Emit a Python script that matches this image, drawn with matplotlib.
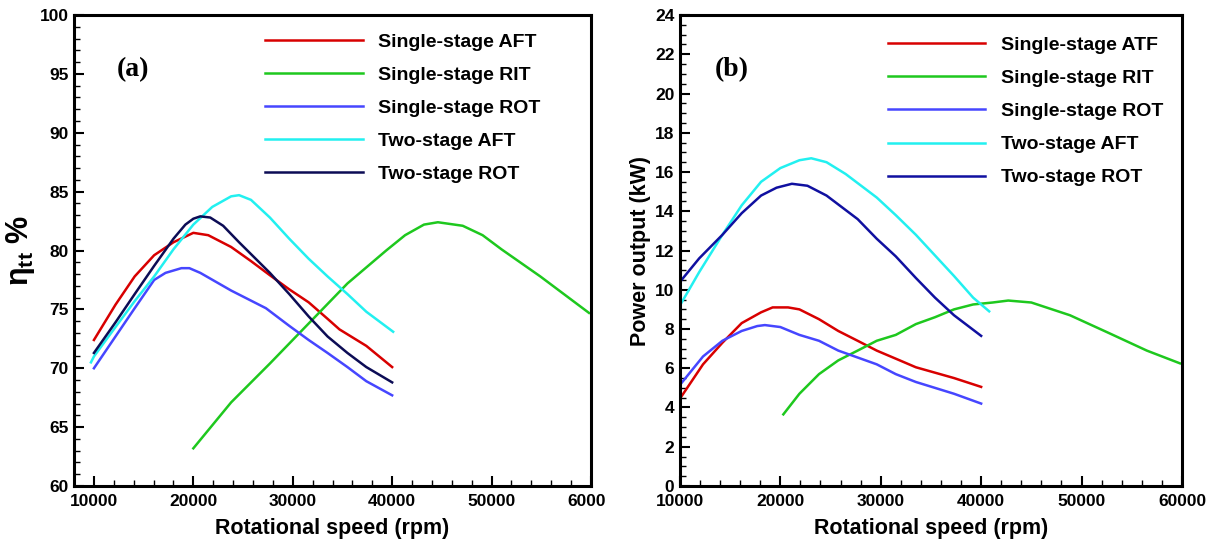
import numpy as np
import matplotlib
matplotlib.use("Agg")
import matplotlib.pyplot as plt
from matplotlib.ticker import MultipleLocator
from matplotlib.transforms import Bbox, TransformedBbox

plt.rcParams['font.family'] = ['Liberation Sans', 'DejaVu Sans']
plt.rcParams['font.weight'] = 'bold'
plt.rcParams['mathtext.default'] = 'regular'

# ---- panel (a): total-to-total efficiency (%) ----
a_ss_aft_x = [10000, 12170, 14100, 16060, 18000, 20000, 21500, 23800, 25800, 27700, 29650, 31600, 33500, 34700, 37400, 40000]
a_ss_aft_y = [72.4, 75.4, 77.8, 79.6, 80.7, 81.5, 81.3, 80.3, 79.1, 77.9, 76.7, 75.6, 74.2, 73.3, 71.9, 70.1]

a_ss_rit_x = [20000, 23800, 27700, 31600, 35500, 39400, 41300, 43200, 44600, 47100, 49100, 51000, 54900, 59800]
a_ss_rit_y = [63.2, 67.1, 70.4, 73.8, 77.2, 80.0, 81.3, 82.2, 82.4, 82.1, 81.3, 80.1, 77.8, 74.7]

a_ss_rot_x = [10000, 12170, 14100, 16060, 17200, 18800, 19600, 20700, 23800, 27300, 29650, 31600, 33500, 35500, 37400, 40000]
a_ss_rot_y = [70.0, 72.7, 75.1, 77.5, 78.1, 78.5, 78.5, 78.1, 76.6, 75.1, 73.6, 72.4, 71.3, 70.1, 68.9, 67.7]

a_ts_aft_x = [9700, 10000, 12170, 14100, 16060, 18000, 20000, 21900, 23800, 24600, 25800, 27700, 29650, 31600, 33500, 35500, 37400, 40100]
a_ts_aft_y = [70.5, 71.0, 73.5, 75.7, 77.8, 80.1, 82.2, 83.7, 84.6, 84.7, 84.3, 82.8, 81.0, 79.3, 77.8, 76.3, 74.8, 73.1]

a_ts_rot_x = [10000, 12170, 14100, 16060, 18000, 19200, 20000, 20700, 21700, 23000, 24600, 27700, 29650, 31600, 33500, 35500, 37400, 40000]
a_ts_rot_y = [71.3, 73.9, 76.3, 78.7, 81.0, 82.2, 82.7, 82.9, 82.8, 82.1, 80.7, 78.1, 76.3, 74.4, 72.7, 71.3, 70.1, 68.8]

# ---- panel (b): power output (kW) ----
b_ss_atf_x = [10000, 12300, 14230, 16150, 18080, 19230, 20770, 21900, 23850, 25770, 27700, 29600, 31900, 33500, 37300, 40000]
b_ss_atf_y = [4.45, 6.2, 7.3, 8.3, 8.85, 9.1, 9.1, 9.0, 8.5, 7.9, 7.4, 6.9, 6.4, 6.05, 5.5, 5.05]

b_ss_rit_x = [20300, 21900, 23850, 25770, 27700, 29600, 31500, 33500, 35400, 37300, 39200, 41150, 42700, 45000, 48850, 52700, 56500, 59800]
b_ss_rit_y = [3.65, 4.7, 5.7, 6.4, 6.9, 7.4, 7.7, 8.25, 8.6, 9.0, 9.25, 9.35, 9.45, 9.35, 8.7, 7.8, 6.9, 6.25]

b_ss_rot_x = [10000, 12300, 14230, 16150, 17700, 18460, 20000, 21900, 23850, 25770, 29600, 31500, 33500, 37300, 40000]
b_ss_rot_y = [5.15, 6.6, 7.4, 7.9, 8.15, 8.2, 8.1, 7.7, 7.4, 6.9, 6.2, 5.7, 5.3, 4.7, 4.2]

b_ts_aft_x = [10000, 11920, 14230, 16150, 18080, 20000, 21900, 23080, 24600, 26500, 29600, 31500, 33500, 35400, 37300, 39200, 40800]
b_ts_aft_y = [9.2, 10.9, 12.8, 14.3, 15.5, 16.2, 16.6, 16.7, 16.5, 15.9, 14.7, 13.8, 12.8, 11.75, 10.7, 9.6, 8.9]

b_ts_rot_x = [10000, 11920, 14230, 16150, 18080, 19620, 21150, 22700, 24600, 27700, 29600, 31500, 33500, 35400, 37300, 40000]
b_ts_rot_y = [10.4, 11.6, 12.8, 13.9, 14.8, 15.2, 15.4, 15.3, 14.8, 13.6, 12.6, 11.7, 10.6, 9.6, 8.7, 7.65]

a_labels = ['Single-stage AFT', 'Single-stage RIT', 'Single-stage ROT', 'Two-stage AFT', 'Two-stage ROT']
b_labels = ['Single-stage ATF', 'Single-stage RIT', 'Single-stage ROT', 'Two-stage AFT', 'Two-stage ROT']

red, green, blue, cyan = '#d80000', '#1ec81e', '#4646ff', '#22f0f0'
navy_a, navy_b = '#0c0c55', '#1010a0'

fig = plt.figure(figsize=(12.12, 5.46), dpi=100)
ax1 = fig.add_axes([0.0611, 0.1099, 0.4265, 0.8626])
ax2 = fig.add_axes([0.561, 0.1099, 0.4142, 0.8626])

a_series = [(a_ss_aft_x, a_ss_aft_y, red), (a_ss_rit_x, a_ss_rit_y, green),
            (a_ss_rot_x, a_ss_rot_y, blue), (a_ts_aft_x, a_ts_aft_y, cyan),
            (a_ts_rot_x, a_ts_rot_y, navy_a)]
b_series = [(b_ss_atf_x, b_ss_atf_y, red), (b_ss_rit_x, b_ss_rit_y, green),
            (b_ss_rot_x, b_ss_rot_y, blue), (b_ts_aft_x, b_ts_aft_y, cyan),
            (b_ts_rot_x, b_ts_rot_y, navy_b)]

for (x, y, c), lab in zip(a_series, a_labels):
    ax1.plot(x, y, color=c, lw=1.8, label=lab)
for (x, y, c), lab in zip(b_series, b_labels):
    ax2.plot(x, y, color=c, lw=1.8, label=lab)

ax1.set_xlim(8000, 60000)
ax1.set_ylim(60, 100)
ax1.xaxis.set_major_locator(MultipleLocator(10000))
ax1.xaxis.set_minor_locator(MultipleLocator(2000))
ax1.yaxis.set_major_locator(MultipleLocator(5))
ax1.yaxis.set_minor_locator(MultipleLocator(1))

ax2.set_xlim(10000, 60000)
ax2.set_ylim(0, 24)
ax2.xaxis.set_major_locator(MultipleLocator(10000))
ax2.xaxis.set_minor_locator(MultipleLocator(2000))
ax2.yaxis.set_major_locator(MultipleLocator(2))
ax2.yaxis.set_minor_locator(MultipleLocator(0.5))

for ax in (ax1, ax2):
    for s in ax.spines.values():
        s.set_linewidth(2.2)
    ax.tick_params(which='major', direction='in', length=7, width=1.5, labelsize=12.5, pad=4)
    ax.tick_params(axis='x', which='major', pad=6)
    ax.tick_params(which='minor', direction='in', length=4, width=1)
    for t in ax.get_xticklabels() + ax.get_yticklabels():
        t.set_fontweight('bold')
    ax.set_xlabel('Rotational speed (rpm)', fontsize=15.5, fontweight='bold', labelpad=6)
    ax.legend(loc='upper left', frameon=False, fontsize=14, handlelength=5.0,
              handletextpad=0.82, labelspacing=0.8, borderpad=0, borderaxespad=0)

ax1.get_legend().set_bbox_to_anchor((0.37, 0.962))
ax2.get_legend().set_bbox_to_anchor((0.415, 0.955))

# the left panel's last x label is cut at the middle of the figure
half = TransformedBbox(Bbox([[0, 0], [0.5, 1]]), fig.transFigure)
for t in ax1.get_xticklabels():
    t.set_clip_box(half)
    t.set_clip_on(True)

ax1.set_ylabel('η$_{tt}$ %', fontsize=22, fontweight='bold', labelpad=2)
ax2.set_ylabel('Power output (kW)', fontsize=15.5, fontweight='bold', labelpad=3)

ax1.text(0.083, 0.885, '(a)', transform=ax1.transAxes, fontsize=20, fontweight='bold',
         family='Liberation Serif', va='center')
ax2.text(0.07, 0.885, '(b)', transform=ax2.transAxes, fontsize=20, fontweight='bold',
         family='Liberation Serif', va='center')

fig.savefig('out.png', dpi=100)
